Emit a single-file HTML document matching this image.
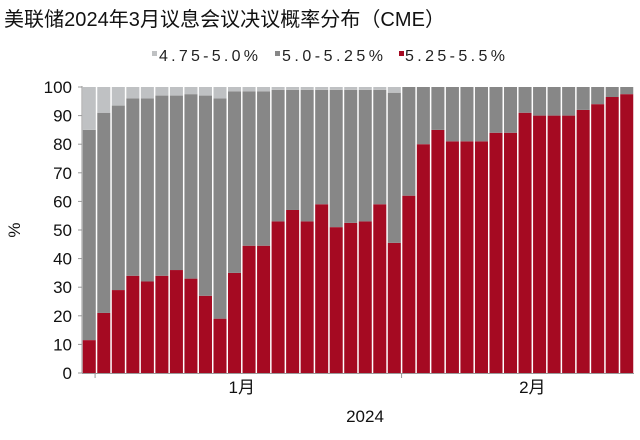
<!DOCTYPE html>
<html><head><meta charset="utf-8"><style>
body{margin:0;background:#fff;width:640px;height:435px;overflow:hidden;font-family:"Liberation Sans","Noto Sans CJK SC",sans-serif;}
</style></head><body>
<svg width="640" height="435" xmlns="http://www.w3.org/2000/svg" font-family="Liberation Sans, Noto Sans CJK SC, sans-serif">
<text x="4" y="26" font-size="20" fill="#111" textLength="441">美联储2024年3月议息会议决议概率分布（CME）</text>
<g font-size="16" fill="#222">
<rect x="152" y="51" width="5" height="5" fill="#bfc1c3"/>
<text x="159" y="61" textLength="99">4.75-5.0%</text>
<rect x="275" y="51" width="5" height="5" fill="#878787"/>
<text x="282" y="61" textLength="101">5.0-5.25%</text>
<rect x="399" y="51" width="5" height="5" fill="#a50a22"/>
<text x="405" y="61" textLength="100">5.25-5.5%</text>
</g>
<g id="plot"></g>
<text x="20" y="230" font-size="17" fill="#111" transform="rotate(-90 20 230)" text-anchor="middle">%</text>
<text x="365" y="422" font-size="17" fill="#111" text-anchor="middle">2024</text>
</svg>
<script>
const highVals=[11.5,21,29,34,32,34,36,33,27,19,35,44.5,44.5,53,57,53,59,51,52.5,53,59,45.5,62,80,85,81,81,81,84,84,91,90,90,90,92,94,96.5,97.5];
const midTops=[85,91,93.5,96,96,97,97,97.5,97,96,98.5,98.5,98.5,99,99,99,99,99,99,99,99,98,100,100,100,100,100,100,100,100,100,100,100,100,100,100,100,100];
const yTicks=[0,10,20,30,40,50,60,70,80,90,100];
const monthLabels=["1月","2月"];
const NS="http://www.w3.org/2000/svg";
const g=document.getElementById('plot');
const X0=82,X1=634,Y0=373,Y1=87;
const n=highVals.length,step=(X1-X0)/n;
function y(v){return Y0-(v/100)*(Y0-Y1);}
function x(i){return X0+i*step;}
function mk(tag,a){const e=document.createElementNS(NS,tag);for(const k in a)e.setAttribute(k,a[k]);g.appendChild(e);return e;}
for(let i=0;i<n;i++){
  const segs=[[0,highVals[i],'#a50a22','bar-high'],[highVals[i],midTops[i],'#878787','bar-mid'],[midTops[i],100,'#bfc1c3','bar-low']];
  for(const s of segs){
    if(s[1]-s[0]<=0)continue;
    const r=mk('rect',{x:x(i)+0.75,y:y(s[1]),width:step-1.5,height:y(s[0])-y(s[1]),fill:s[2]});
    
    
  }
}
const ax=mk('line',{x1:X0,y1:Y0,x2:X0,y2:Y1-1,stroke:'#999','stroke-width':1});


const bx=mk('line',{x1:X0,y1:Y0+0.5,x2:X1,y2:Y0+0.5,stroke:'#999','stroke-width':1});


for(const t of yTicks){
  const l=mk('line',{x1:X0-4,y1:y(t),x2:X0,y2:y(t),stroke:'#999'});
  
  
  const tx=mk('text',{x:X0-10,y:y(t)+6,'font-size':17,'text-anchor':'end',fill:'#111'});
  tx.textContent=t;
  
  
}
const bounds=[0.9,22];
const labelIdx=[11,31];
for(let k=0;k<2;k++){
  const tk=mk('line',{x1:x(bounds[k]),y1:Y0,x2:x(bounds[k]),y2:Y0+5,stroke:'#999'});
  
  
  const tx=mk('text',{x:x(labelIdx[k]),y:393,'font-size':17,'text-anchor':'middle',fill:'#111'});
  tx.textContent=monthLabels[k];
  
  
}
</script>
</body></html>
